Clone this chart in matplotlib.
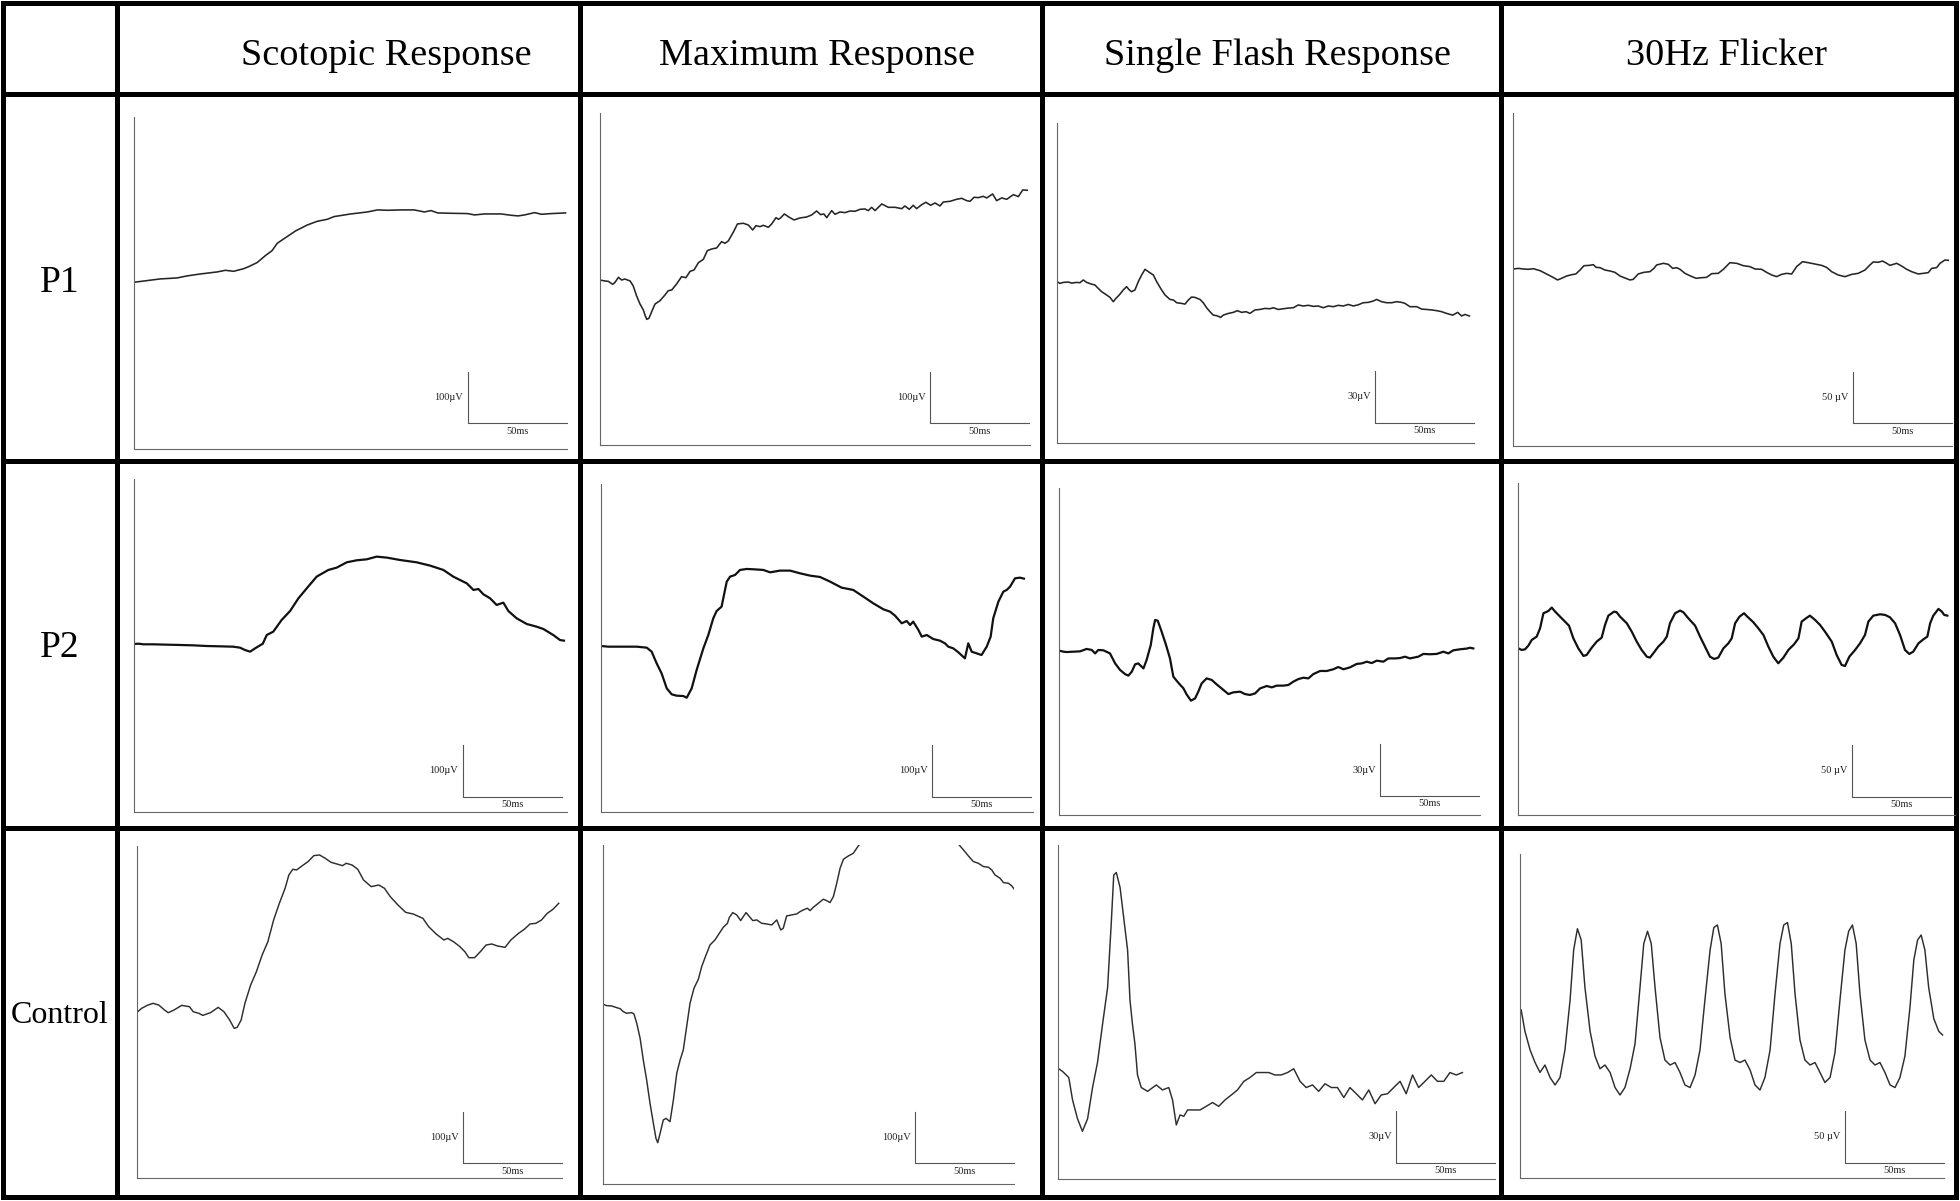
import numpy as np
import matplotlib.pyplot as plt

W, H = 1960, 1201
DPI = 100

col_titles = ["Scotopic Response", "Maximum Response", "Single Flash Response", "30Hz Flicker"]
row_labels = ["P1", "P2", "Control"]
scale_uv = [100, 100, 30, 50]
scale_uv_text = ["100µV", "100µV", "30µV", "50 µV"]
scale_ms = 50

# ERG traces: columns = time (ms), amplitude (µV, relative to first sample)
scot_p1 = np.array([
    [0, 0], [6.6, 3.2], [13.3, 6.5], [21.8, 8.4], [26.9, 12.3], [33.6, 16.1], [42.1, 20.0],
    [46.3, 23.2], [50.5, 21.3], [55.6, 26.4], [58.1, 30.3], [62.3, 38.1], [66.5, 51.6],
    [69.9, 61.3], [72.5, 75.5], [77.5, 88.4], [81.7, 99.3], [87.7, 110.9], [92.7, 118.0],
    [97.8, 121.9], [101.2, 127.1], [109.6, 132.2], [118.1, 136.1], [123.1, 140.0],
    [128.2, 139.3], [134.9, 140.0], [141.7, 140.0], [146.8, 136.1], [150.2, 138.7],
    [153.5, 134.2], [160.3, 133.5], [168.7, 132.9], [172.1, 130.3], [177.2, 132.2],
    [185.6, 132.2], [190.7, 129.6], [194.1, 128.4], [197.4, 130.3], [202.5, 134.8],
    [205.9, 131.6], [210.9, 132.9], [214.3, 133.5], [218.1, 134.2]])

max_p1 = np.array([
    [0, 0], [2.5, -1.9], [4.2, -2.6], [6.4, -8.4], [7.6, -4.5], [9.3, 5.2], [10.9, 0],
    [12.6, 1.9], [15.2, -1.9], [16.8, -11.6], [18.5, -31.0], [20.2, -46.4], [21.9, -58.1],
    [22.7, -67.7], [23.6, -76.1], [24.7, -74.2], [26.1, -61.3], [27.8, -46.4], [30.3, -40.0],
    [32.8, -29.0], [34.5, -20.6], [36.2, -19.4], [38.7, -7.7], [41.2, 6.5], [43.4, 4.5],
    [45.5, 16.8], [47.5, 19.4], [49.7, 33.5], [52.2, 40.0], [54.2, 56.8], [56.4, 60.0],
    [58.9, 61.9], [61.4, 74.2], [63.1, 71.0], [64.8, 75.5], [67.3, 92.2], [69.4, 108.4],
    [72.4, 109.7], [74.9, 106.4], [77.1, 96.8], [78.8, 105.1], [80.8, 103.2], [82.5, 105.8],
    [85.0, 101.9], [86.7, 108.4], [88.9, 120.6], [90.1, 117.4], [91.2, 120.0], [93.1, 127.7],
    [95.6, 121.3], [98.0, 116.1], [101.0, 120.0], [104.4, 121.9], [106.9, 125.8],
    [109.4, 133.5], [111.4, 126.4], [113.1, 127.7], [114.5, 120.6], [117.0, 134.2],
    [118.7, 127.1], [121.2, 131.6], [123.7, 130.3], [126.3, 133.5], [128.8, 132.9],
    [131.3, 136.7], [133.8, 137.4], [135.5, 134.2], [137.2, 140.6], [138.9, 134.2],
    [142.3, 147.1], [145.6, 140.6], [149.0, 140.6], [152.4, 138.0], [154.0, 143.2],
    [156.2, 136.7], [158.2, 144.5], [159.9, 138.0], [162.5, 145.8], [164.6, 150.3],
    [167.0, 144.5], [169.2, 149.0], [171.7, 143.2], [173.4, 150.9], [176.8, 152.2],
    [180.1, 156.1], [182.7, 158.0], [185.2, 153.5], [186.9, 152.2], [188.9, 160.0],
    [191.1, 159.3], [193.6, 161.9], [195.3, 158.7], [198.3, 166.4], [200.3, 153.5],
    [202.9, 158.7], [205.4, 156.1], [208.8, 165.1], [211.3, 161.3], [213.5, 174.2],
    [215.8, 173.5]])

sf_p1 = np.array([
    [0, 0], [1.3, -1.0], [3.0, -0.4], [5.6, -0.2], [7.2, -0.8], [9.8, -0.4], [11.4, -0.6],
    [13.1, 1.0], [14.8, -0.4], [17.3, -1.4], [19.0, -1.9], [20.7, -3.9], [22.4, -5.8],
    [24.9, -7.7], [26.6, -9.1], [28.3, -11.6], [29.6, -9.7], [31.3, -7.7], [33.3, -4.8],
    [35.0, -2.9], [36.4, -4.8], [37.5, -5.8], [39.2, -4.8], [40.9, 0], [42.6, 3.9],
    [44.3, 7.2], [46.0, 5.8], [48.5, 3.9], [50.2, 0], [52.2, -3.9], [54.4, -7.7],
    [56.9, -10.3], [58.6, -10.6], [60.3, -12.2], [62.8, -12.6], [64.5, -13.0], [66.2, -10.6],
    [67.8, -8.9], [69.5, -9.1], [72.1, -10.3], [73.7, -12.2], [75.4, -15.1], [77.1, -17.4],
    [78.8, -19.4], [80.5, -19.7], [82.5, -20.7], [83.8, -19.4], [86.4, -18.4], [88.9, -17.8],
    [90.9, -16.8], [93.1, -17.8], [95.3, -17.4], [97.3, -18.4], [99.8, -16.4], [102.4, -16.1],
    [104.9, -15.5], [107.4, -15.7], [109.1, -15.1], [111.6, -16.1], [114.1, -15.7],
    [116.7, -15.3], [119.2, -15.1], [121.7, -13.5], [124.2, -14.1], [126.8, -13.7],
    [129.3, -14.3], [131.8, -14.1], [134.3, -15.1], [136.9, -14.1], [139.4, -14.5],
    [141.9, -13.7], [144.4, -14.1], [147.0, -13.2], [149.5, -14.1], [152.0, -13.4],
    [154.5, -12.2], [157.1, -12.0], [159.6, -11.2], [161.3, -10.3], [163.8, -11.6],
    [166.3, -12.2], [168.9, -12.2], [171.4, -11.6], [173.9, -12.0], [175.6, -12.6],
    [178.1, -14.5], [181.5, -14.5], [184.0, -15.9], [186.5, -16.1], [189.1, -16.4],
    [191.6, -16.8], [194.1, -17.4], [196.6, -18.4], [199.7, -19.4], [202.2, -17.8],
    [204.2, -19.9], [205.9, -19.0], [208.1, -19.9]])

flk_p1 = np.array([
    [0, 0], [2.5, 0.6], [5.1, 0], [7.6, -0.3], [10.1, 0.3], [13.5, -1.6], [16.8, -4.8],
    [19.4, -7.4], [22.4, -10.6], [24.4, -9.0], [26.9, -6.8], [29.5, -5.5], [31.6, -4.8],
    [33.7, -1.0], [35.7, 3.2], [38.4, 3.5], [40.4, 4.2], [41.8, 1.6], [43.8, 1.3],
    [46.3, -1.0], [48.8, -1.9], [51.3, -3.2], [53.9, -6.8], [56.4, -8.7], [58.9, -10.6],
    [60.6, -10.0], [63.1, -4.8], [66.0, -3.2], [69.0, -2.6], [71.0, 0.6], [72.4, 3.9],
    [75.8, 5.5], [78.3, 4.5], [80.5, 0.6], [82.5, 1.3], [84.2, -0.3], [86.7, -4.2],
    [89.2, -6.5], [92.3, -9.0], [95.1, -8.4], [97.6, -8.1], [100.2, -4.5], [103.5, -4.2],
    [106.1, -0.3], [109.4, 6.1], [112.8, 5.5], [116.2, 3.2], [119.5, 2.3], [122.1, 0],
    [125.4, -0.3], [127.9, -3.2], [130.5, -5.8], [133.0, -7.4], [135.5, -5.2], [138.0, -4.2],
    [140.6, -4.8], [143.1, 2.3], [146.1, 7.1], [149.0, 6.1], [152.4, 4.8], [155.7, 3.5],
    [158.2, 1.6], [160.8, -2.6], [164.1, -5.8], [167.5, -7.4], [170.9, -5.2], [174.2, -4.2],
    [177.6, -1.0], [180.1, 3.9], [181.8, 6.8], [184.3, 6.5], [186.5, 7.7], [188.6, 5.5],
    [190.2, 3.5], [193.6, 5.5], [196.1, 2.9], [198.7, -0.3], [201.2, -2.6], [204.5, -4.8],
    [207.1, -4.2], [209.6, -3.5], [211.3, 0.6], [213.8, 1.3], [215.5, 5.5], [218.0, 8.7],
    [219.7, 8.4]])

scot_p2 = np.array([
    [0, 0], [2.4, 0.6], [4.9, -0.6], [9.9, -0.6], [16.7, -1.3], [23.4, -1.9], [30.1, -2.6],
    [36.9, -3.9], [43.6, -4.5], [50.3, -5.2], [53.7, -7.1], [56.2, -11.6], [58.8, -14.8],
    [61.3, -8.4], [65.2, 0.6], [67.2, 17.4], [70.5, 23.9], [74.7, 46.4], [79.0, 63.9],
    [83.2, 88.4], [87.4, 107.7], [92.4, 130.3], [98.3, 143.2], [102.5, 147.7], [107.6, 158.0],
    [112.6, 161.9], [117.7, 163.8], [122.7, 169.0], [127.8, 167.1], [134.5, 162.5],
    [142.9, 158.0], [149.7, 151.6], [156.4, 143.2], [161.4, 130.3], [164.8, 123.8],
    [168.2, 117.4], [171.6, 104.5], [174.1, 106.4], [176.6, 96.1], [180.0, 88.4],
    [183.3, 75.5], [186.7, 80.0], [189.2, 63.9], [193.4, 49.7], [198.5, 38.7], [203.5, 33.5],
    [206.9, 29.0], [211.9, 17.4], [215.3, 7.7], [217.3, 6.5]])

max_p2 = np.array([
    [0, 0], [3.7, -1.3], [9.6, -1.3], [18.0, -1.3], [23.1, -3.2], [25.6, -11.0], [28.1, -33.5],
    [30.6, -52.9], [33.2, -81.9], [35.7, -93.5], [38.2, -96.1], [41.6, -96.8], [43.3, -100.0],
    [45.8, -81.9], [48.3, -46.4], [51.7, -4.5], [54.2, 21.3], [56.7, 53.5], [58.4, 67.7],
    [60.9, 76.1], [63.5, 124.5], [65.2, 134.2], [67.7, 137.4], [70.2, 147.1], [73.6, 149.0],
    [76.9, 148.4], [82.0, 147.1], [85.4, 142.5], [90.4, 145.8], [95.5, 145.8], [100.5, 140.6],
    [105.6, 136.1], [110.6, 133.5], [115.7, 124.5], [121.5, 112.9], [127.4, 108.4],
    [132.5, 95.5], [137.5, 82.6], [142.6, 71.0], [146.0, 66.4], [148.5, 58.7], [151.9, 43.9],
    [154.4, 48.4], [156.1, 40.6], [157.7, 47.1], [160.3, 31.0], [162.0, 18.1], [164.5, 21.3],
    [167.8, 13.5], [171.2, 10.3], [173.7, 5.2], [175.4, -1.3], [177.9, -4.5], [180.5, -12.3],
    [183.8, -23.9], [185.5, 5.2], [187.2, -11.0], [189.7, -14.2], [192.2, -17.4],
    [194.8, -1.3], [196.8, 18.1], [198.1, 53.5], [200.7, 85.8], [203.2, 105.1],
    [204.9, 108.4], [206.6, 114.8], [209.1, 130.9], [211.6, 132.2], [213.6, 130.3]])

sf_p2 = np.array([
    [1.0, 0], [2.4, -0.4], [4.0, -0.6], [7.4, -0.4], [10.8, -0.2], [14.1, 1.2], [16.7, 0.6],
    [18.4, -1.4], [20.0, 0.6], [22.6, 0.4], [25.9, -1.4], [28.5, -7.2], [31.0, -11.0],
    [33.5, -13.4], [35.2, -14.3], [36.9, -12.0], [38.6, -7.7], [40.2, -7.2], [42.8, -10.1],
    [44.4, -5.2], [46.5, 3.5], [47.8, 13.2], [48.7, 18.0], [50.0, 17.6], [52.0, 11.2],
    [54.2, 3.5], [56.2, -4.3], [57.9, -14.9], [60.4, -18.4], [63.0, -21.7], [64.6, -25.2],
    [66.8, -28.8], [68.9, -27.5], [70.5, -23.6], [72.2, -18.8], [74.7, -15.9], [77.3, -16.8],
    [79.8, -19.4], [83.2, -22.6], [85.7, -25.0], [88.2, -24.0], [91.6, -23.6], [94.1, -25.0],
    [96.6, -25.5], [99.2, -24.6], [101.7, -21.7], [105.1, -20.3], [107.6, -21.1],
    [110.1, -20.1], [113.5, -20.1], [116.0, -19.7], [118.5, -17.8], [121.0, -16.3],
    [123.6, -15.5], [126.1, -15.9], [128.6, -13.4], [132.0, -11.6], [135.4, -11.6],
    [138.7, -10.6], [141.2, -9.3], [143.8, -10.6], [147.1, -9.5], [150.5, -7.5],
    [153.0, -7.2], [155.6, -6.2], [158.1, -7.0], [160.6, -5.6], [164.0, -6.2], [166.5, -4.3],
    [169.9, -4.3], [172.4, -4.1], [174.9, -3.3], [177.4, -4.3], [181.6, -3.3], [184.2, -1.7],
    [187.5, -1.9], [190.9, -1.7], [194.3, -0.4], [196.8, -1.4], [199.3, 0.4], [202.7, 1.0],
    [206.1, 1.4], [207.7, 1.9], [209.4, 1.5]])

flk_p2 = np.array([
    [0.3, 0], [2.0, -1.6], [3.7, -1.0], [5.4, 2.6], [7.1, 8.1], [9.6, 11.3], [11.3, 19.4],
    [13.0, 33.9], [15.5, 36.1], [17.2, 39.4], [18.9, 35.5], [21.4, 30.6], [23.9, 25.8],
    [25.9, 21.9], [28.1, 9.7], [30.6, 0], [33.2, -7.4], [34.8, -6.5], [37.4, 0.6],
    [39.9, 6.5], [42.4, 10.3], [44.1, 22.6], [45.8, 31.6], [48.7, 35.5], [50.0, 34.8],
    [51.7, 30.6], [55.1, 24.2], [57.6, 16.1], [60.1, 6.5], [62.6, -1.6], [65.2, -8.1],
    [66.8, -9.0], [68.5, -4.8], [71.0, 1.6], [73.6, 6.5], [75.3, 11.3], [76.9, 24.2],
    [79.5, 33.9], [82.0, 36.5], [83.7, 34.8], [86.2, 29.0], [89.6, 21.9], [92.1, 11.3],
    [94.6, 1.6], [97.1, -8.1], [99.2, -10.3], [101.3, -9.0], [103.9, 0], [106.4, 4.8],
    [108.1, 9.7], [109.8, 24.2], [112.0, 30.6], [114.3, 33.9], [116.0, 30.6], [119.0, 25.2],
    [121.5, 19.4], [124.1, 12.9], [126.6, 1.6], [129.1, -8.1], [131.6, -14.5], [134.2, -9.0],
    [136.7, -1.6], [139.6, 3.9], [141.8, 9.7], [143.4, 25.8], [145.6, 29.0], [147.6, 31.6],
    [150.2, 27.4], [152.7, 22.6], [155.2, 16.1], [158.6, 6.5], [161.1, -6.5], [163.6, -16.1],
    [165.3, -17.1], [167.5, -8.1], [170.4, -1.6], [172.9, 4.8], [175.4, 12.9], [177.1, 25.8],
    [179.6, 31.6], [183.0, 32.9], [185.5, 32.3], [188.0, 30.0], [190.6, 24.2], [193.1, 12.9],
    [195.6, -1.6], [197.8, -5.5], [199.8, -3.2], [202.4, 4.8], [204.9, 8.7], [206.9, 11.3],
    [208.3, 24.2], [209.9, 31.6], [212.5, 38.1], [214.2, 35.5], [215.4, 32.3], [217.0, 31.6]])

scot_c = np.array([
    [0, 0], [2.5, 8.4], [5.4, 14.2], [8.3, 18.1], [11.2, 14.8], [14.1, 5.2], [16.0, 0],
    [18.9, 5.2], [22.8, 14.2], [26.7, 11.6], [28.6, 1.9], [31.5, -1.3], [33.4, -5.2],
    [37.3, 0], [41.2, 10.3], [44.1, 1.9], [47.0, -14.2], [49.3, -30.3], [50.8, -28.4],
    [52.8, -14.2], [54.7, 18.1], [57.6, 53.5], [60.5, 79.3], [63.4, 111.6], [66.3, 137.4],
    [69.2, 179.3], [72.1, 211.6], [75.0, 240.6], [76.9, 266.4], [78.9, 277.4], [80.8, 276.1],
    [83.7, 284.4], [86.6, 292.2], [89.5, 303.8], [92.4, 305.1], [95.3, 298.6], [98.2, 290.9],
    [101.1, 287.7], [104.0, 284.4], [105.9, 289.0], [108.8, 285.7], [111.7, 277.4],
    [114.6, 256.7], [118.5, 243.8], [122.3, 247.0], [125.2, 240.6], [128.1, 224.5],
    [132.0, 208.3], [135.9, 194.1], [139.7, 190.9], [144.6, 182.5], [147.5, 166.4],
    [151.3, 152.2], [155.2, 140.6], [157.1, 143.8], [160.0, 137.4], [162.9, 129.0],
    [165.8, 118.0], [167.8, 106.4], [170.7, 106.4], [173.6, 118.0], [176.5, 130.9],
    [179.4, 132.9], [182.3, 129.0], [186.1, 126.4], [189.0, 140.6], [192.9, 153.5],
    [195.8, 161.3], [198.7, 171.6], [201.6, 172.9], [204.5, 179.3], [207.4, 192.2],
    [210.3, 200.0], [213.2, 211.6]])

max_c = np.array([
    [0.3, 0], [2.0, -2.6], [4.5, -3.2], [7.1, -6.5], [8.8, -8.4], [10.4, -14.2], [12.1, -17.4],
    [14.6, -16.1], [15.8, -18.7], [17.2, -36.8], [18.9, -65.8], [20.5, -107.7], [22.2, -146.4],
    [23.9, -191.6], [25.6, -230.3], [26.9, -259.3], [27.8, -267.7], [29.0, -249.6],
    [30.6, -223.8], [32.0, -220.6], [34.0, -227.0], [35.7, -185.1], [37.4, -133.5],
    [39.1, -107.7], [40.7, -88.4], [42.4, -43.2], [44.1, 1.9], [46.1, 31.0], [48.3, 48.4],
    [50.0, 72.9], [52.2, 95.5], [54.2, 114.8], [56.7, 124.5], [58.9, 137.4], [60.9, 149.0],
    [63.0, 156.7], [64.0, 168.3], [65.7, 177.4], [67.7, 172.9], [69.7, 161.9], [71.0, 169.6],
    [72.4, 177.4], [74.4, 168.3], [75.8, 161.9], [77.8, 163.2], [80.3, 156.7], [82.8, 155.4],
    [85.4, 153.5], [87.9, 163.2], [89.9, 143.8], [91.2, 147.1], [92.9, 170.9], [95.5, 172.9],
    [98.0, 174.8], [99.7, 179.3], [101.3, 182.5], [103.4, 185.8], [104.7, 181.2],
    [106.4, 187.7], [108.9, 195.4], [111.4, 203.2], [113.1, 200.6], [114.8, 196.7],
    [116.5, 208.3], [118.2, 234.1], [119.9, 263.2], [121.6, 280.6], [124.1, 287.0],
    [126.6, 292.2], [128.3, 301.9], [130.0, 311.5], [131.6, 321.2], [138.4, 347.0],
    [148.5, 356.7], [158.6, 353.5], [170.4, 337.3], [179.6, 310.2], [182.2, 298.6],
    [184.7, 287.0], [187.2, 276.1], [189.7, 272.8], [192.3, 266.4], [194.8, 265.1],
    [196.5, 259.9], [198.1, 250.3], [200.7, 243.8], [202.4, 235.4], [204.9, 234.1],
    [206.6, 229.0], [207.9, 222.5]])

sf_c = np.array([
    [0.6, 0], [2.5, -1.5], [5.7, -5.1], [7.6, -18.1], [10.1, -29.0], [12.6, -36.3],
    [15.2, -29.0], [17.7, -10.9], [20.2, 3.6], [22.7, 25.4], [25.3, 47.1], [27.1, 83.4],
    [28.4, 112.4], [29.7, 113.9], [31.6, 105.2], [33.5, 87.0], [35.4, 68.9], [36.6, 39.9],
    [37.9, 25.4], [39.1, 14.5], [40.4, -3.6], [42.3, -10.9], [45.5, -13.1], [49.9, -9.4],
    [53.0, -12.3], [56.2, -10.9], [58.1, -18.1], [60.0, -32.6], [61.9, -26.8], [63.8, -27.6],
    [65.7, -23.9], [68.8, -23.9], [72.0, -23.9], [75.1, -21.8], [78.3, -19.6], [81.4, -21.8],
    [84.6, -18.1], [87.8, -15.2], [90.9, -12.3], [94.1, -7.3], [97.2, -5.1], [100.4, -2.2],
    [103.5, -2.2], [106.7, -2.2], [109.8, -3.6], [113.0, -3.6], [116.2, -2.2], [119.3, 0],
    [122.5, -7.3], [125.6, -10.9], [128.8, -9.4], [131.9, -13.1], [135.1, -8.7],
    [138.3, -10.9], [141.4, -10.9], [144.6, -16.7], [147.7, -10.9], [150.9, -14.5],
    [154.0, -18.1], [157.2, -12.3], [160.4, -20.3], [163.5, -15.2], [166.7, -14.5],
    [169.8, -10.9], [173.0, -7.3], [176.1, -14.5], [179.3, -3.6], [182.4, -10.9],
    [185.6, -7.3], [188.8, -3.6], [191.9, -7.3], [195.1, -7.3], [198.2, -2.2], [201.4, -3.6],
    [204.5, -2.2]])

flk_c = np.array([
    [0.6, 0], [2.5, -20.6], [5.1, -38.7], [7.6, -50.8], [10.1, -60.4], [12.6, -53.2],
    [15.2, -65.3], [17.7, -72.5], [20.2, -65.3], [22.7, -38.7], [25.3, 9.7], [27.1, 58.0],
    [29.0, 78.6], [30.9, 67.7], [32.8, 21.8], [35.4, -20.6], [37.9, -44.7], [40.4, -56.8],
    [42.9, -53.2], [45.5, -60.4], [48.0, -75.0], [50.5, -82.2], [53.0, -75.0], [55.6, -56.8],
    [58.1, -32.6], [60.6, 21.8], [62.5, 64.1], [64.4, 76.2], [66.3, 64.1], [68.2, 21.8],
    [70.7, -26.6], [73.2, -48.4], [75.8, -53.2], [78.3, -50.8], [80.8, -60.4], [83.3, -72.5],
    [85.9, -75.0], [88.4, -62.9], [90.9, -38.7], [93.4, 9.7], [96.0, 58.0], [97.9, 79.8],
    [99.7, 82.2], [101.6, 64.1], [103.5, 15.7], [106.1, -26.6], [108.6, -48.4],
    [111.1, -50.8], [113.6, -48.4], [116.2, -58.0], [118.7, -72.5], [121.2, -77.4],
    [123.7, -65.3], [126.3, -38.7], [128.8, 15.7], [131.3, 64.1], [133.2, 82.2],
    [135.1, 84.6], [137.0, 64.1], [138.9, 15.7], [141.4, -29.0], [143.9, -48.4],
    [146.5, -53.2], [149.0, -50.8], [151.5, -60.4], [154.0, -70.1], [156.6, -65.3],
    [159.1, -41.1], [161.6, 9.7], [164.1, 58.0], [166.0, 76.2], [167.9, 82.2], [169.8, 64.1],
    [171.7, 15.7], [174.2, -29.0], [176.8, -48.4], [179.3, -53.2], [181.8, -50.8],
    [184.3, -60.4], [186.9, -72.5], [189.4, -75.0], [191.9, -65.3], [194.4, -44.7],
    [197.0, 3.6], [198.9, 48.4], [200.8, 67.7], [202.6, 72.5], [204.5, 58.0], [206.4, 21.8],
    [209.0, -8.5], [211.5, -20.6], [213.4, -24.2]])

traces = [[scot_p1, max_p1, sf_p1, flk_p1],
          [scot_p2, max_p2, sf_p2, flk_p2],
          [scot_c, max_c, sf_c, flk_c]]

# layout (pixels of the 1960x1201 canvas)
col_edges = [3, 117, 580, 1042, 1501, 1956]
row_edges = [3, 94, 461, 828, 1197]
title_x = [386, 817, 1277, 1726]
label_y = [292, 657, 1023]
label_size = [27, 27, 23]

# plot frame (left, top, right, bottom) and pixel row of the first sample
frames = [
    [(133.7, 117.3, 567.3, 449.3), (600, 112.7, 1030, 445), (1057.3, 123.3, 1474.3, 443.3), (1513.3, 113.3, 1952, 445.7)],
    [(133.7, 479, 567.3, 811.7), (601, 484.3, 1032.7, 811.7), (1058.7, 488.3, 1480, 815), (1517.7, 483.3, 1955, 815)],
    [(136.6, 846, 561.8, 1178.3), (602.7, 845, 1014.3, 1184), (1057.5, 845, 1495, 1178.75), (1520, 853.75, 1943.75, 1177.5)],
]
base_px = [[282.3, 280, 281.7, 269],
           [644, 646, 651, 648.3],
           [1012.7, 1004.3, 1068.75, 1010]]
# bottom-right corner of the calibration bar
bar_px = [
    [(566.7, 423.3), (1029.3, 423.3), (1474.3, 422.7), (1951.7, 423.3)],
    [(561.7, 796.7), (1031, 796.7), (1479.3, 796), (1950.7, 796.7)],
    [(561.8, 1163.3), (1014.3, 1163.3), (1495, 1162.5), (1943.75, 1162.5)],
]
PX_PER_MS = 99 / scale_ms
PX_PER_BAR = 51.7
trace_style = [dict(color="#262626", lw=1.15), dict(color="#111111", lw=1.6), dict(color="#2e2e2e", lw=1.05)]
SERIF = ["Liberation Serif", "DejaVu Serif"]

fig = plt.figure(figsize=(W / DPI, H / DPI), dpi=DPI)
fig.patch.set_facecolor("white")

# table grid
grid = fig.add_axes([0, 0, 1, 1])
grid.set_xlim(0, W)
grid.set_ylim(H, 0)
grid.axis("off")
for x in col_edges:
    grid.plot([x, x], [row_edges[0], row_edges[-1]], color="black", lw=3.6, solid_capstyle="projecting")
for y in row_edges:
    grid.plot([col_edges[0], col_edges[-1]], [y, y], color="black", lw=3.6, solid_capstyle="projecting")

for j, title in enumerate(col_titles):
    grid.text(title_x[j], 65, title, ha="center", va="baseline", fontsize=27.5, family=SERIF)
for i, lab in enumerate(row_labels):
    grid.text(60, label_y[i], lab, ha="center", va="baseline", fontsize=label_size[i], family=SERIF)

for i in range(3):
    for j in range(4):
        L, T, R, B = frames[i][j]
        ax = fig.add_axes([L / W, 1 - B / H, (R - L) / W, (B - T) / H])
        ax.patch.set_alpha(0)
        px_per_uv = PX_PER_BAR / scale_uv[j]
        base = base_px[i][j]
        ax.set_xlim(0, (R - L) / PX_PER_MS)
        ax.set_ylim((base - B) / px_per_uv, (base - T) / px_per_uv)

        data = traces[i][j]
        ax.plot(data[:, 0], data[:, 1], **trace_style[i])

        # calibration bar
        bx, by = bar_px[i][j]
        x1 = (bx - L) / PX_PER_MS
        x0 = x1 - scale_ms
        y0 = (base - by) / px_per_uv
        y1 = y0 + scale_uv[j]
        ax.plot([x0, x0, x1], [y1, y0, y0], color="#555555", lw=0.8, clip_on=False)
        ax.text(x0 - 2.2, (y0 + y1) / 2, scale_uv_text[j], ha="right", va="center",
                fontsize=7.5, family=SERIF, color="#222222")
        ax.text((x0 + x1) / 2, y0 - 3.5 / px_per_uv, "50ms", ha="center", va="top",
                fontsize=7.5, family=SERIF, color="#222222")

        for side in ["top", "right"]:
            ax.spines[side].set_visible(False)
        for side in ["left", "bottom"]:
            ax.spines[side].set_color("#666666")
            ax.spines[side].set_linewidth(0.8)
        ax.set_xticks([])
        ax.set_yticks([])

fig.savefig("out.png", dpi=DPI, facecolor="white")
